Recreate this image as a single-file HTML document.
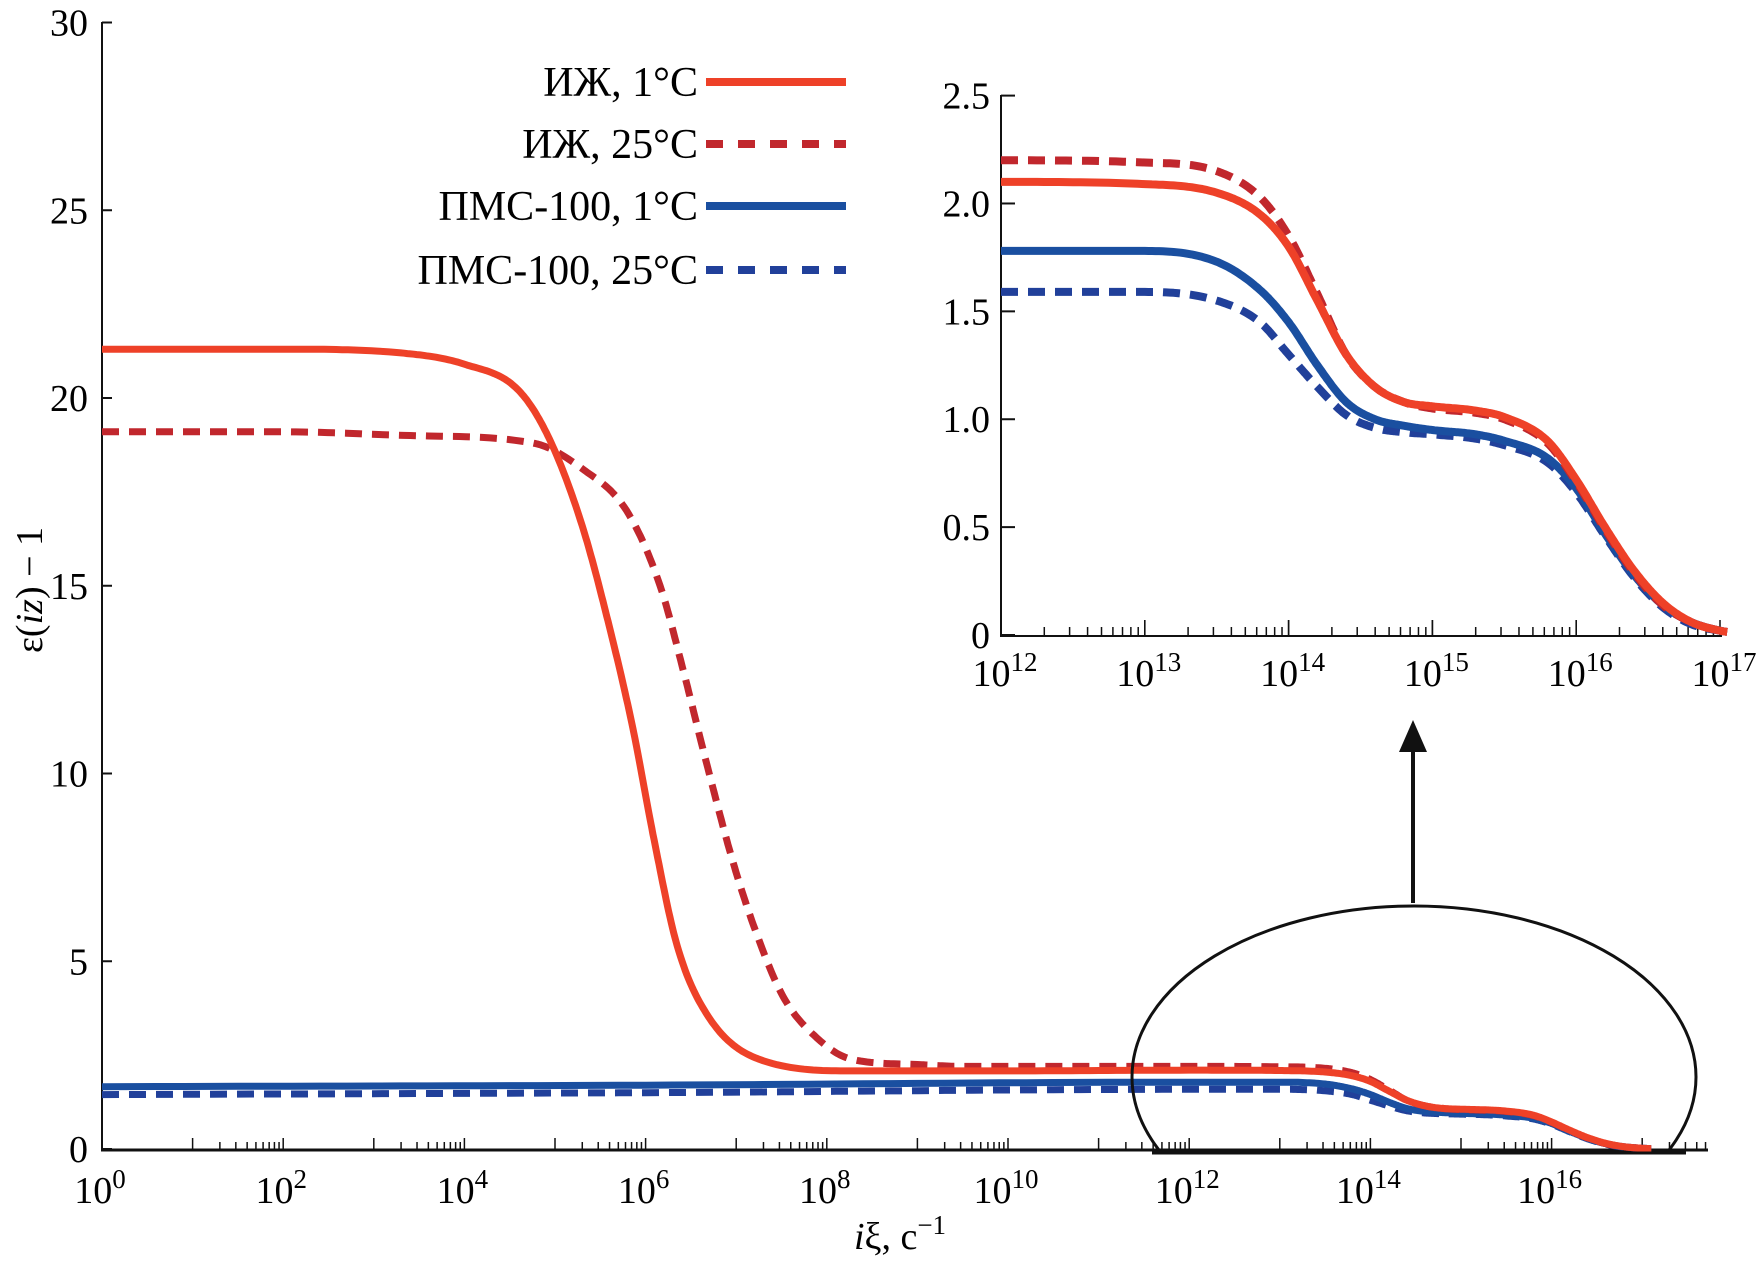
<!DOCTYPE html>
<html><head><meta charset="utf-8"><style>
html,body{margin:0;padding:0;background:#fff;}
svg{display:block;font-family:"Liberation Serif",serif;}
</style></head><body>
<svg id="chart" width="1763" height="1262" viewBox="0 0 1763 1262" xmlns="http://www.w3.org/2000/svg">
<g id="main"></g>
<g id="inset"></g>
<g id="legend"></g>
<g>
<clipPath id="ec"><rect x="0" y="0" width="1763" height="1153"/></clipPath>
<ellipse cx="1414" cy="1077" rx="282" ry="171" fill="none" stroke="#111" stroke-width="3" clip-path="url(#ec)"/>
<line x1="1152" y1="1153" x2="1686" y2="1153" stroke="#111" stroke-width="3"/>
</g>
<g>
<line x1="1413" y1="903" x2="1413" y2="745" stroke="#111" stroke-width="4"/>
<polygon points="1413,720 1399,752 1427,752" fill="#111"/>
</g>
<text transform="translate(42,590) rotate(-90)" text-anchor="middle" font-size="38">ε(<tspan font-style="italic">iz</tspan>) − 1</text>
<text x="900" y="1249" text-anchor="middle" font-size="38"><tspan font-style="italic">i</tspan>ξ, с<tspan dy="-15" font-size="27">−1</tspan></text>
</svg>
<script>
// Data: log10 of frequency and values
const xs_ij1 = [0,2,3.3,4.0,4.6,4.94,5.3,5.57,5.86,6.08,6.35,6.7,7.3,8.3,10,12,13,13.5,13.8,14,14.2,14.4,14.6,14.8,15,15.3,15.5,15.8,16,16.2,16.4,16.6,16.8,17,17.1];
const ys_ij1 = [21.3,21.3,21.2,20.9,20.2,18.9,16.6,14.2,11.2,8.4,5.4,3.5,2.35,2.08,2.08,2.1,2.09,2.05,1.95,1.8,1.55,1.3,1.15,1.08,1.06,1.04,1.01,0.9,0.72,0.5,0.3,0.15,0.06,0.02,0.01];
const xs_ij25 = [0,2,3.4,4.76,5.31,5.79,6.16,6.41,6.67,6.97,7.23,7.52,7.89,8.26,9,9.5,10,12,13,13.5,13.8,14,14.2,14.4,14.6,14.8,15,15.3,15.5,15.8,16,16.2,16.4,16.6,16.8,17,17.1];
const ys_ij25 = [19.1,19.1,19.0,18.8,18.1,17.0,15.0,12.8,10.3,7.6,5.7,4.05,2.96,2.4,2.25,2.2,2.2,2.2,2.19,2.15,2.03,1.85,1.58,1.3,1.15,1.08,1.05,1.03,1.0,0.89,0.71,0.49,0.29,0.14,0.06,0.02,0.01];
const xs_pms1 = [0,6,12,13,13.5,13.8,14,14.2,14.4,14.6,14.8,15,15.3,15.5,15.8,16,16.2,16.4,16.6,16.8,17,17.1];
const ys_pms1 = [1.66,1.7,1.78,1.78,1.73,1.6,1.45,1.25,1.08,1.0,0.97,0.95,0.93,0.9,0.82,0.68,0.47,0.28,0.14,0.06,0.02,0.01];
const xs_pms25 = [0,6,12,13,13.5,13.8,14,14.2,14.4,14.6,14.8,15,15.3,15.5,15.8,16,16.2,16.4,16.6,16.8,17,17.1];
const ys_pms25 = [1.45,1.5,1.59,1.59,1.55,1.45,1.3,1.15,1.02,0.96,0.94,0.93,0.91,0.88,0.8,0.66,0.46,0.27,0.13,0.05,0.02,0.01];
const seriesNames = ["ИЖ, 1°C","ИЖ, 25°C","ПМС-100, 1°C","ПМС-100, 25°C"];
const mainYTicks = [0,5,10,15,20,25,30];
const mainXTicks = [0,2,4,6,8,10,12,14,16];
const insetYTicks = [0,0.5,1.0,1.5,2.0,2.5];
const insetYLabels = ["0","0.5","1.0","1.5","2.0","2.5"];
const insetXTicks = [12,13,14,15,16,17];

const NS="http://www.w3.org/2000/svg";
function mk(parent,tag,attrs,text){const e=document.createElementNS(NS,tag);for(const k in attrs)e.setAttribute(k,attrs[k]);if(text!==undefined)e.textContent=text;parent.appendChild(e);return e;}
const series=[
 {xs:xs_ij1,ys:ys_ij1,color:"#ee4128",dash:null,name:"series-izh-1c"},
 {xs:xs_ij25,ys:ys_ij25,color:"#c1272d",dash:"17 10",name:"series-izh-25c"},
 {xs:xs_pms1,ys:ys_pms1,color:"#1a4fa0",dash:null,name:"series-pms-1c"},
 {xs:xs_pms25,ys:ys_pms25,color:"#21409a",dash:"17 10",name:"series-pms-25c"}];

// monotone cubic (Fritsch-Carlson) sampled path
function monoPath(xs,ys,sx,sy,x0,x1){
 const n=xs.length,d=[],m=new Array(n);
 for(let i=0;i<n-1;i++)d.push((ys[i+1]-ys[i])/(xs[i+1]-xs[i]));
 m[0]=d[0];m[n-1]=d[n-2];
 for(let i=1;i<n-1;i++){m[i]=(d[i-1]*d[i]<=0)?0:(d[i-1]+d[i])/2;}
 for(let i=0;i<n-1;i++){if(d[i]===0){m[i]=0;m[i+1]=0;continue;}
  const a=m[i]/d[i],b=m[i+1]/d[i],s=a*a+b*b;if(s>9){const t=3/Math.sqrt(s);m[i]=t*a*d[i];m[i+1]=t*b*d[i];}}
 let path="";
 for(let i=0;i<n-1;i++){const h=xs[i+1]-xs[i];
  for(let k=0;k<=20;k++){const t=k/20,x=xs[i]+t*h;if(x<x0-1e-9||x>x1+1e-9)continue;
   const h00=2*t*t*t-3*t*t+1,h10=t*t*t-2*t*t+t,h01=-2*t*t*t+3*t*t,h11=t*t*t-t*t;
   const y=h00*ys[i]+h10*h*m[i]+h01*ys[i+1]+h11*h*m[i+1];
   path+=(path?" L":"M")+sx(x).toFixed(1)+","+sy(y).toFixed(1);}}
 return path;}

// main plot
const main=document.getElementById('main');
const mx=v=>102+v*90.6, my=v=>1149-v*(1149-22.5)/30;
mk(main,'line',{x1:102,y1:22,x2:102,y2:1150,stroke:'#111','stroke-width':2});
mk(main,'line',{x1:101,y1:1150,x2:1708,y2:1150,stroke:'#111','stroke-width':3});
mainYTicks.forEach(t=>{
 const l=mk(main,'line',{x1:102,y1:my(t),x2:112,y2:my(t),stroke:'#111','stroke-width':2});
 
 const tx=mk(main,'text',{x:88,y:my(t)+13,'text-anchor':'end','font-size':38},String(t));
 });
mainXTicks.forEach(t=>{
 const tx=mk(main,'text',{x:mx(t)-2,y:1203,'text-anchor':'middle','font-size':38},"10");
 mk(tx,'tspan',{dy:-15,'font-size':27},String(t));
 });
for(let k=1;k<=17;k+=2){for(let m=1;m<=10;m++){const v=k+Math.log10(m);if(v>17.7)break;
 const l=mk(main,'line',{x1:mx(v),y1:1150,x2:mx(v),y2:(m===1||m===10)?1138:1142,stroke:'#111','stroke-width':1.5});
 }}
series.slice().reverse().forEach(s=>{
 const p=mk(main,'path',{d:monoPath(s.xs,s.ys,mx,my,0,17.1),fill:'none',stroke:s.color,'stroke-width':7,'stroke-linejoin':'round'});
 if(s.dash)p.setAttribute('stroke-dasharray',s.dash);
 });

// inset
const ins=document.getElementById('inset');
const ix=v=>1001+(v-12)*143.8, iy=v=>635-v*(635-95.6)/2.5;
mk(ins,'line',{x1:1001,y1:95,x2:1001,y2:636,stroke:'#111','stroke-width':2});
mk(ins,'line',{x1:1000,y1:636,x2:1722,y2:636,stroke:'#111','stroke-width':2});
insetYTicks.forEach((t,i)=>{
 const l=mk(ins,'line',{x1:1001,y1:iy(t),x2:1015,y2:iy(t),stroke:'#111','stroke-width':2});
 
 const tx=mk(ins,'text',{x:990,y:iy(t)+13,'text-anchor':'end','font-size':38},insetYLabels[i]);
 });
insetXTicks.forEach(t=>{
 const tx=mk(ins,'text',{x:ix(t)+4,y:686,'text-anchor':'middle','font-size':38},"10");
 mk(tx,'tspan',{dy:-15,'font-size':27},String(t));
 });
for(let k=12;k<17;k++){for(let m=1;m<=10;m++){const v=k+Math.log10(m);
 const l=mk(ins,'line',{x1:ix(v),y1:636,x2:ix(v),y2:(m===1||m===10)?620:627,stroke:'#111','stroke-width':1.5});
 }}
series.slice().reverse().forEach(s=>{
 const p=mk(ins,'path',{d:monoPath(s.xs,s.ys,ix,iy,12,17.05),fill:'none',stroke:s.color,'stroke-width':8,'stroke-linejoin':'round'});
 if(s.dash)p.setAttribute('stroke-dasharray',s.dash);
 });

// legend
const lg=document.getElementById('legend');
const ly=[82,144,206,270];
series.forEach((s,i)=>{
 const g=mk(lg,'g',{});
 
 mk(g,'text',{x:698,y:ly[i]+14,'text-anchor':'end','font-size':42},seriesNames[i]);
 const l=mk(g,'line',{x1:706,y1:ly[i],x2:846,y2:ly[i],stroke:s.color,'stroke-width':8});
 if(s.dash)l.setAttribute('stroke-dasharray',"17 15");});
</script>
</body></html>
